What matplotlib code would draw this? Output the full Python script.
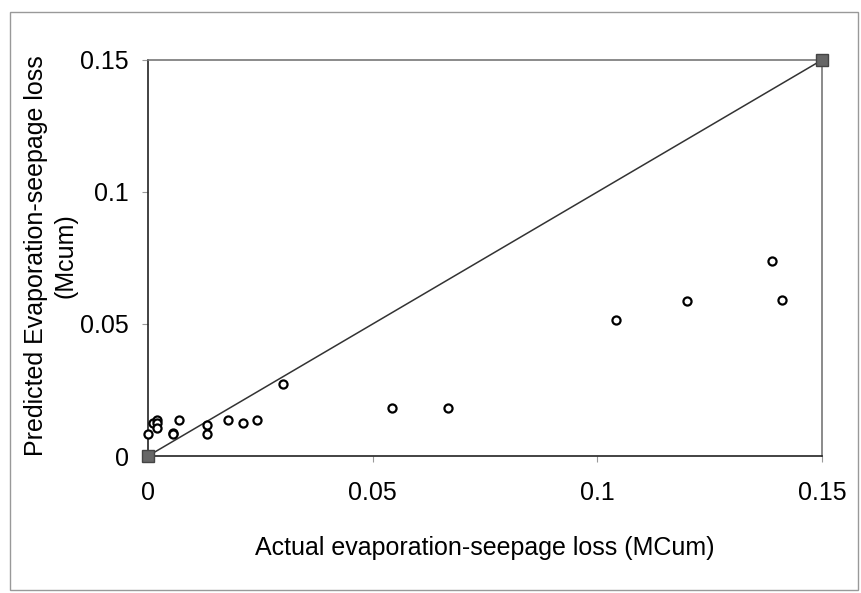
import matplotlib
matplotlib.use("Agg")
import matplotlib.pyplot as plt
from matplotlib.patches import Rectangle

plt.rcParams['font.family'] = ['Liberation Sans', 'DejaVu Sans']

actual = [0.0, 0.0012, 0.002, 0.002, 0.002, 0.0056, 0.0056, 0.0069, 0.0132, 0.0132,
          0.0178, 0.0212, 0.0242, 0.030, 0.0542, 0.0668, 0.1041, 0.1199, 0.1388, 0.141]
predicted = [0.0082, 0.0126, 0.0135, 0.0126, 0.0107, 0.0088, 0.0082, 0.0135, 0.0118, 0.0082,
             0.0135, 0.0126, 0.0137, 0.0272, 0.0183, 0.0183, 0.0515, 0.0589, 0.0738, 0.0591]
line_x = [0.0, 0.15]
line_y = [0.0, 0.15]
ticks = [0, 0.05, 0.1, 0.15]
tick_labels = ['0', '0.05', '0.1', '0.15']

fig = plt.figure(figsize=(8.62, 5.93), dpi=100)
fig.patches.append(Rectangle((10/862, 3/593), 848/862, 578/593, transform=fig.transFigure,
                             fill=False, edgecolor='#999999', linewidth=1.0))
ax = fig.add_axes([148/862, 1 - 456/593, 674/862, 396/593])

ax.plot(line_x, line_y, color='#333333', linewidth=1.1, marker='s', markersize=8,
        markerfacecolor='#666666', markeredgecolor='#444444', zorder=3, clip_on=False)
ax.scatter(actual, predicted, s=34, facecolors='white', edgecolors='black', linewidths=1.6,
           zorder=4, clip_on=False)

ax.set_xlim(0, 0.15)
ax.set_ylim(0, 0.15)
ax.set_xticks(ticks)
ax.set_xticklabels(tick_labels)
ax.set_yticks(ticks)
ax.set_yticklabels(tick_labels)
ax.tick_params(axis='both', labelsize=18, length=4, color='#999999', width=0.8)
ax.tick_params(axis='x', pad=14)
ax.tick_params(axis='y', pad=10)
for s in ['left', 'bottom']:
    ax.spines[s].set_color('#222222')
    ax.spines[s].set_linewidth(1.2)
for s in ['top', 'right']:
    ax.spines[s].set_color('#777777')
    ax.spines[s].set_linewidth(1.2)

ax.set_xlabel('Actual evaporation-seepage loss (MCum)', fontsize=18, labelpad=22)
ax.set_ylabel('Predicted Evaporation-seepage loss\n(Mcum)', fontsize=18,
              linespacing=1.3, va='center', ha='center')
ax.yaxis.set_label_coords(-0.144, 0.507)

fig.savefig('out.png', dpi=100)
